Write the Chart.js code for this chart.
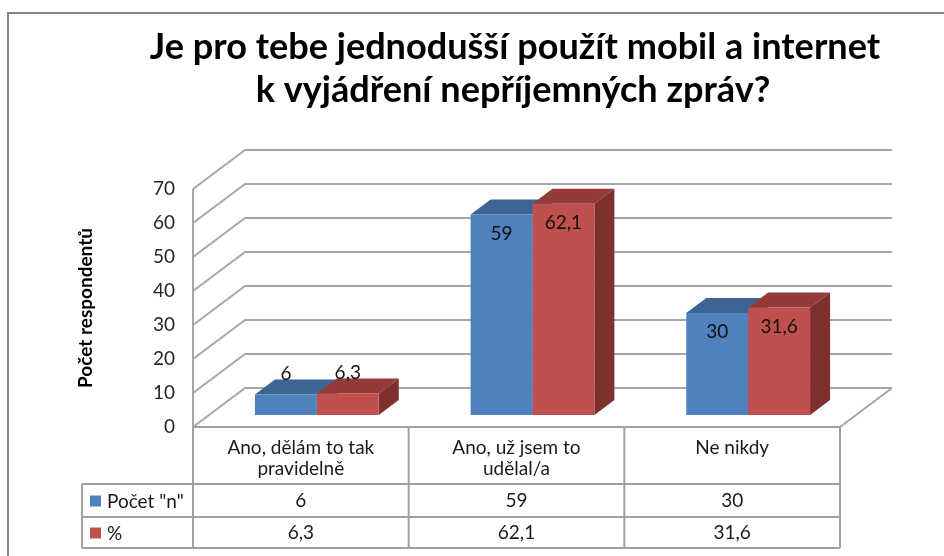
<!DOCTYPE html>
<html>
<head>
<meta charset="utf-8">
<script src="https://cdn.jsdelivr.net/npm/chart.js@4/dist/chart.umd.min.js"></script>
<style>
  html, body { margin: 0; padding: 0; background: #fff; }
  #wrap { width: 944px; height: 556px; }
</style>
</head>
<body>
<div id="wrap"><canvas id="graf"></canvas></div>
<script>
// data
const titleLines = ['Je pro tebe jednodušší použít mobil a internet', 'k vyjádření nepříjemných zpráv?']
const categories = [['Ano, dělám to tak', 'pravidelně'], ['Ano, už jsem to', 'udělal/a'], ['Ne nikdy']]
const seriesNames = ['Počet "n"', '%']
const countValues = [6, 59, 30]
const percentValues = [6.3, 62.1, 31.6]
const yMin = 0
const yMax = 70
const yStep = 10
const yTitle = 'Počet respondentů'

const FONT = 'Lato, "Open Sans", sans-serif'
const blue = ['#4f81bd', '#3d6594', '#34577f']
const red = ['#c0504d', '#943b39', '#7d302e']

// 3D offsets (front plane -> bars -> back wall)
const OX = 16, OY = -12
const DX = 20, DY = -15
const WX = 52, WY = -39

const fmt = v => String(v).replace('.', ',')

let ctx = document.getElementById('graf')

const plugin3d = {
  id: 'excel3d',
  beforeDraw(chart) {
    const c = chart.ctx
    c.save()
    c.fillStyle = '#fff'
    c.fillRect(0, 0, chart.width, chart.height)
    c.strokeStyle = '#858585'
    c.lineWidth = 2
    c.strokeRect(8, 13, 1000, 700)

    // title
    c.fillStyle = '#000'
    c.textAlign = 'center'
    c.textBaseline = 'alphabetic'
    c.font = 'bold 32px ' + FONT
    let w = c.measureText(titleLines[0]).width
    let size = 32 * 730 / w
    c.font = 'bold ' + size.toFixed(1) + 'px ' + FONT
    c.fillText(titleLines[0], 515, 59)
    c.fillText(titleLines[1], 513, 102)
    c.restore()
  },
  beforeDatasetsDraw(chart) {
    const c = chart.ctx
    const a = chart.chartArea
    const y = chart.scales.y
    c.save()
    c.strokeStyle = '#a6a6a6'
    c.lineWidth = 2
    c.lineJoin = 'round'
    // walls / gridlines
    for (let v = yMin; v <= yMax; v += yStep) {
      const py = y.getPixelForValue(v)
      c.beginPath()
      c.moveTo(a.left, py)
      c.lineTo(a.left + WX, py + WY)
      c.lineTo(a.right + WX, py + WY)
      c.stroke()
    }
    // left front edge
    c.beginPath()
    c.moveTo(a.left, a.top)
    c.lineTo(a.left, a.bottom)
    c.stroke()
    // floor right edge
    c.beginPath()
    c.moveTo(a.right, a.bottom)
    c.lineTo(a.right + WX, a.bottom + WY)
    c.stroke()

    // data table
    const x = chart.scales.x
    const rowH = [57, 33, 31]
    const tTop = a.bottom
    const r1 = tTop + rowH[0], r2 = r1 + rowH[1], r3 = r2 + rowH[2]
    const tLeft = 82
    c.strokeStyle = '#a0a0a0'
    c.beginPath()
    c.moveTo(a.left, tTop); c.lineTo(a.right, tTop)
    c.moveTo(tLeft, r1); c.lineTo(a.right, r1)
    c.moveTo(tLeft, r2); c.lineTo(a.right, r2)
    c.moveTo(tLeft, r3); c.lineTo(a.right, r3)
    c.moveTo(tLeft, r1); c.lineTo(tLeft, r3)
    c.moveTo(a.left, tTop); c.lineTo(a.left, r3)
    const colW = (a.right - a.left) / categories.length
    for (let i = 1; i <= categories.length; i++) {
      const px = a.left + colW * i
      c.moveTo(px, tTop); c.lineTo(px, r3)
    }
    c.stroke()

    c.fillStyle = '#1a1a1a'
    c.font = '19px ' + FONT
    c.textAlign = 'center'
    c.textBaseline = 'middle'
    categories.forEach((lab, i) => {
      const cx = x.getPixelForValue(i)
      lab.forEach((t, j) => c.fillText(t, cx, tTop + 21 + j * 21))
      c.fillText(fmt(countValues[i]), cx, (r1 + r2) / 2)
      c.fillText(fmt(percentValues[i]), cx, (r2 + r3) / 2)
    })
    // legend keys
    c.textAlign = 'left'
    const keyRows = [(r1 + r2) / 2, (r2 + r3) / 2]
    seriesNames.forEach((n, i) => {
      c.fillStyle = i === 0 ? blue[0] : red[0]
      c.fillRect(90, keyRows[i] - 5, 11, 11)
      c.fillStyle = '#1a1a1a'
      c.fillText(n, 107, keyRows[i] + 1)
    })

    // 3D faces of bars (drawn before the fronts)
    chart.data.datasets.forEach((ds, di) => {
      const col = di === 0 ? blue : red
      chart.getDatasetMeta(di).data.forEach(bar => {
        const p = bar.getProps(['x', 'y', 'base', 'width'], true)
        const l = p.x - p.width / 2 + OX, r = p.x + p.width / 2 + OX
        const t = p.y + OY, b = p.base + OY
        c.fillStyle = col[1]
        c.beginPath()
        c.moveTo(l, t); c.lineTo(r, t); c.lineTo(r + DX, t + DY); c.lineTo(l + DX, t + DY)
        c.closePath(); c.fill()
        c.fillStyle = col[2]
        c.beginPath()
        c.moveTo(r, t); c.lineTo(r + DX, t + DY); c.lineTo(r + DX, b + DY); c.lineTo(r, b)
        c.closePath(); c.fill()
      })
    })
    c.restore()

    // fronts are drawn by Chart.js, shifted to bar depth
    c.save()
    c.translate(OX, OY)
  },
  afterDatasetsDraw(chart) {
    const c = chart.ctx
    c.restore()
    c.save()
    c.fillStyle = '#111'
    c.font = '19px ' + FONT
    c.textAlign = 'center'
    c.textBaseline = 'middle'
    chart.data.datasets.forEach((ds, di) => {
      chart.getDatasetMeta(di).data.forEach((bar, i) => {
        const p = bar.getProps(['x', 'y', 'base'], true)
        const h = p.base - p.y
        const ly = p.y + OY + (h > 40 ? 19 : -21)
        c.fillText(fmt(ds.data[i]), p.x + OX, ly)
      })
    })
    c.restore()
  }
}

const data = {
  labels: categories,
  datasets: [
    { label: seriesNames[0], data: countValues, backgroundColor: blue[0] },
    { label: seriesNames[1], data: percentValues, backgroundColor: red[0] }
  ]
}

const config = {
  type: 'bar',
  data,
  options: {
    responsive: false,
    animation: false,
    events: [],
    layout: { padding: { top: 189, bottom: 129, left: 0, right: 104 } },
    datasets: { bar: { categoryPercentage: 0.574, barPercentage: 1, clip: false } },
    plugins: {
      legend: { display: false },
      title: { display: false },
      tooltip: { enabled: false }
    },
    scales: {
      x: { display: false },
      y: {
        min: yMin,
        max: yMax,
        ticks: { stepSize: yStep, padding: 10, color: '#262626', font: { family: FONT, size: 19 } },
        grid: { display: false },
        border: { display: false },
        title: {
          display: true,
          text: yTitle,
          color: '#000',
          font: { family: FONT, size: 19, weight: 'bold' },
          padding: { top: 74, bottom: 0 }
        },
        afterFit(scale) { scale.width = 193 }
      }
    }
  },
  plugins: [plugin3d]
}

ctx.width = 944
ctx.height = 556
const graph = new Chart(ctx, config)
</script>
</body>
</html>
